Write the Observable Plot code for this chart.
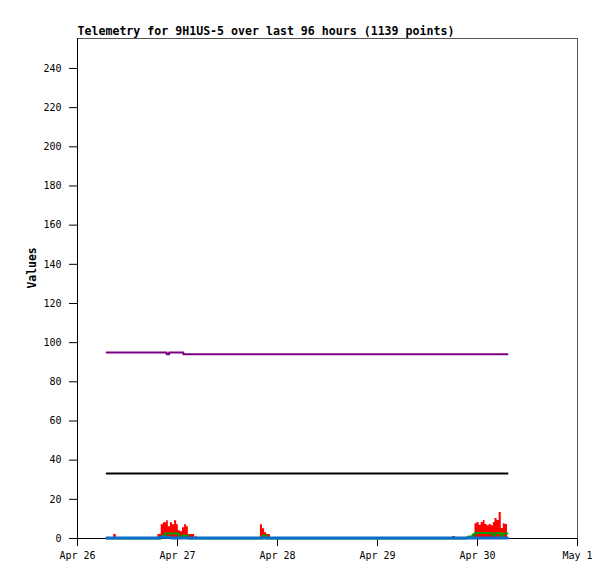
<!DOCTYPE html>
<html>
<head>
<meta charset="utf-8">
<script src="https://cdn.jsdelivr.net/npm/d3@7"></script>
<script src="https://cdn.jsdelivr.net/npm/@observablehq/plot@0.6"></script>
<style>
  html, body { margin: 0; padding: 0; background: #fff; }
</style>
</head>
<body>
<div id="chart"></div>
<script>
// ---- data (hours after Apr 26 00:00 UTC) ----
const titleText = "Telemetry for 9H1US-5 over last 96 hours (1139 points)";
const yLabelText = "Values";
const xTickLabels = ["Apr 26", "Apr 27", "Apr 28", "Apr 29", "Apr 30", "May 1"];
const xTickDays = [0, 1, 2, 3, 4, 5];
const yTicks = [0, 20, 40, 60, 80, 100, 120, 140, 160, 180, 200, 220, 240];
const yMax = 255.3;

const redHours = [7.0, 8.7, 9.3, 19.3, 20.1, 20.6, 21.4, 21.8, 22.3, 22.8, 23.3, 23.8, 24.2, 24.7, 25.2, 25.7, 26.2, 26.6, 27.1, 28.1, 28.4, 28.7, 43.9, 44.4, 44.9, 45.4, 46.3, 90.0, 90.7, 95.1, 95.4, 95.9, 96.4, 96.9, 97.4, 97.8, 98.3, 98.8, 99.3, 99.8, 100.2, 100.7, 101.2, 101.7, 102.2, 102.6, 103.2];
const redValues = [0, 2, 0, 2, 7, 8, 9, 6, 8, 7, 9, 7, 4, 3.5, 5.5, 7, 6, 2, 2, 0, 1, 0, 7, 5, 3, 2, 0, 1, 0, 2.4, 7.5, 8.2, 6.8, 8.2, 9.2, 7.1, 6.5, 7.1, 6.5, 8.2, 10.2, 9.2, 13.3, 5.1, 7.5, 7.1, 7.1];

const greenHours = [7.0, 20.0, 20.5, 21.0, 24.3, 25.2, 26.6, 43.9, 44.4, 45.4, 93.4, 93.8, 94.8, 95.4, 99.6, 100.3, 101.5, 102.0, 103.2];
const greenValues = [0, 1, 1.5, 2.6, 1, 1.5, 0, 0, 1.5, 0, 0.5, 1, 2, 2.8, 1.6, 2.8, 0.5, 2.5, 2.5];

const blueHours = [7.0, 19.8, 22.5, 103.2];
const blueValues = [0.2, 0.6, 0.2, 0.2];

const purpleHours = [7.0, 21.4, 22.0, 25.4, 103.2];
const purpleValues = [95, 94.1, 95, 94.1, 94.1];

const blackHours = [7.0, 103.2];
const blackValues = [33.2, 33.2];

// ---- build ----
const t0 = Date.UTC(2024, 3, 26);
const toDate = h => new Date(t0 + h * 3600e3);
const series = (hours, values) => hours.map((h, i) => ({t: toDate(h), v: values[i]}));
const red = series(redHours, redValues);
const green = series(greenHours, greenValues);
const blue = series(blueHours, blueValues);
const purple = series(purpleHours, purpleValues);
const black = series(blackHours, blackValues);
const dayDates = xTickDays.map(d => toDate(d * 24));
const fmtX = d => xTickLabels[dayDates.findIndex(t => +t === +d)];

const chart = Plot.plot({
  width: 615,
  height: 579,
  marginLeft: 77,
  marginRight: 38,
  marginTop: 38,
  marginBottom: 41,
  style: {fontFamily: "'DejaVu Sans Mono', monospace", fontSize: "10px", background: "#fff", color: "#000"},
  x: {type: "utc", domain: [dayDates[0], dayDates[dayDates.length - 1]]},
  y: {domain: [0, yMax]},
  marks: [
    Plot.frame({anchor: "top", stroke: "#555"}),
    Plot.frame({anchor: "right", stroke: "#555"}),
    Plot.axisY({ticks: yTicks, tickSize: 8, tickPadding: 8, label: null, fontSize: 10}),
    Plot.axisX({ticks: dayDates, tickFormat: fmtX, tickSize: 8, tickPadding: 5, label: null, fontSize: 10}),
    Plot.ruleX([dayDates[0]], {stroke: "#000"}),
    Plot.ruleY([0], {stroke: "#000"}),
    Plot.areaY(red, {x: "t", y: "v", curve: "step-after", fill: "#ff0000"}),
    Plot.line(green, {x: "t", y: "v", curve: "step-after", stroke: "#00a000", strokeWidth: 2}),
    Plot.line(blue, {x: "t", y: "v", curve: "step-after", stroke: "#0a6ccc", strokeWidth: 3}),
    Plot.line(black, {x: "t", y: "v", curve: "step-after", stroke: "#000", strokeWidth: 2}),
    Plot.line(purple, {x: "t", y: "v", curve: "step-after", stroke: "#7a0080", strokeWidth: 2}),
    Plot.text([titleText], {frameAnchor: "top-left", textAnchor: "start", lineAnchor: "bottom", dy: -4, fontWeight: "bold", fontSize: 11.6}),
    Plot.text([yLabelText], {frameAnchor: "left", rotate: -90, dx: -45, fontWeight: "bold", fontSize: 11.4})
  ]
});
document.getElementById("chart").appendChild(chart);
</script>
</body>
</html>
